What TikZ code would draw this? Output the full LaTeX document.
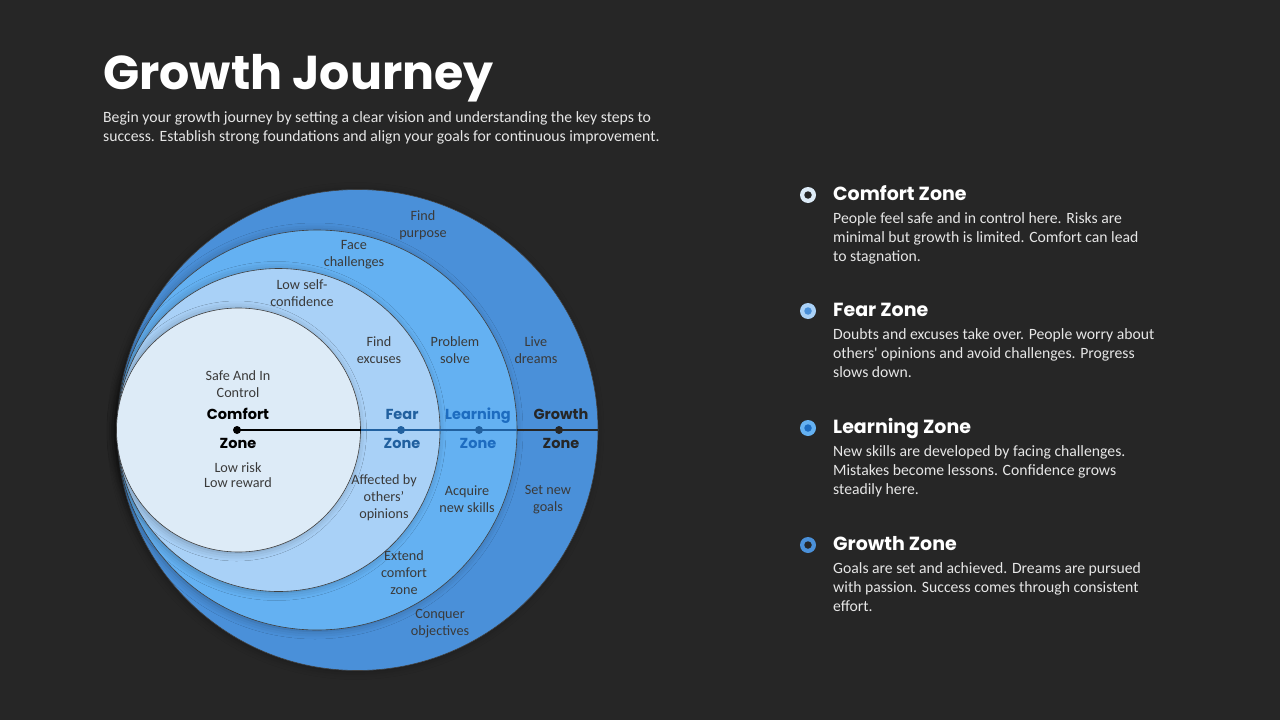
\documentclass[tikz,border=0pt]{standalone}
\usepackage{fontspec}
\setmainfont{Carlito}
\newfontfamily\poppins{Poppins}
\usetikzlibrary{shadows.blur}

\definecolor{bgdark}{HTML}{262626}
\definecolor{comfortfill}{HTML}{DDEBF7}
\definecolor{fearfill}{HTML}{A9D1F7}
\definecolor{learnfill}{HTML}{64B1F2}
\definecolor{growthfill}{HTML}{4A90D9}
\definecolor{fearblue}{HTML}{21609F}
\definecolor{learnblue}{HTML}{1D6CC0}
\definecolor{inktext}{HTML}{3A3A3A}
\definecolor{bodytext}{HTML}{E6E6E6}

\tikzset{
  zone/.style={circle, draw=black!75, line width=0.6pt, inner sep=0pt,
    blur shadow={shadow xshift=-2pt, shadow yshift=-1pt, shadow blur radius=8pt, shadow opacity=28}},
  note/.style={font=\fontsize{14.2}{17}\selectfont, text=inktext, align=center, inner sep=0pt},
  zonename/.style={font=\poppins\bfseries\fontsize{14.5}{17}\selectfont, inner sep=0pt, anchor=base},
  head/.style={font=\poppins\bfseries\fontsize{19}{22}\selectfont, text=white, anchor=base west, inner sep=0pt},
  body/.style={font=\fontsize{15.7}{19}\selectfont, text=bodytext, anchor=base west, align=left, inner sep=0pt},
}

\begin{document}
\begin{tikzpicture}[x=1pt, y=-1pt]
\fill[bgdark] (0,0) rectangle (1280,720);
\useasboundingbox (0,0) rectangle (1280,720);

% title
\node[font=\poppins\bfseries\fontsize{47.5}{52}\selectfont, text=white, anchor=base west, inner sep=0pt] (title) at (103,89) {Growth Journey};
\node[body] (intro) at (103,141) {Begin your growth journey by setting a clear vision and understanding the key steps to\\success. Establish strong foundations and align your goals for continuous improvement.};

% the four zones
\node[zone, fill=growthfill, minimum size=481pt] (growth) at (357.5,430) {};
\node[zone, fill=learnfill, minimum size=400pt] (learning) at (317,430) {};
\node[zone, fill=fearfill, minimum size=323pt] (fear) at (278.5,430) {};
\node[zone, fill=comfortfill, minimum size=244pt] (comfort) at (238.5,430) {};

\coordinate (cdot) at (237,430);
\coordinate (fdot) at (401,430);
\coordinate (ldot) at (479,430);
\coordinate (gdot) at (559,430);
\draw[line width=2pt, black] (cdot) -- (comfort.east);
\draw[line width=2pt, fearblue] (comfort.east) -- (learning.east);
\draw[line width=2pt, bgdark] (learning.east) -- (growth.east);
\fill[black] (cdot) circle[radius=4pt];
\fill[fearblue] (fdot) circle[radius=4pt];
\fill[fearblue] (ldot) circle[radius=4pt];
\fill[bgdark] (gdot) circle[radius=4pt];

\foreach \nm/\x/\col in {Comfort/238/black, Fear/402/fearblue, Learning/478/learnblue, Growth/561/bgdark}{
  \node[zonename, text=\col] (\nm-top) at (\x,419) {\nm};
  \node[zonename, text=\col] (\nm-zone) at (\x,448) {Zone};
}

% notes
\node[note] (safe) at (238,384.5) {Safe And In\\Control};
\node[note, font=\fontsize{14.2}{15}\selectfont] (risk) at (238,475.5) {Low risk\\Low reward};
\node[note] (selfconf) at (302,293.5) {Low self-\\confidence};
\node[note] (excuses) at (379,350.5) {Find\\excuses};
\node[note] (affected) at (384,498) {Affected by\\others'\\opinions};
\node[note] (face) at (354,254.5) {Face\\challenges};
\node[note] (problem) at (455,350.5) {Problem\\solve};
\node[note] (acquire) at (467,499.5) {Acquire\\new skills};
\node[note] (extend) at (404,573) {Extend\\comfort\\zone};
\node[note] (purpose) at (423,225.5) {Find\\purpose};
\node[note] (dreams) at (536,350.5) {Live\\dreams};
\node[note] (goals) at (548,499.5) {Set new\\goals};
\node[note] (conquer) at (440,623.5) {Conquer\\objectives};

% legend
\foreach \y/\ring/\core/\ttl/\txt in {
  195/comfortfill/bgdark/Comfort Zone/{People feel safe and in control here. Risks are\\minimal but growth is limited. Comfort can lead\\to stagnation.},
  311/fearfill/growthfill/Fear Zone/{Doubts and excuses take over. People worry about\\others\textquotesingle\ opinions and avoid challenges. Progress\\slows down.},
  428/learnfill/learnblue/Learning Zone/{New skills are developed by facing challenges.\\Mistakes become lessons. Confidence grows\\steadily here.},
  545/growthfill/bgdark/Growth Zone/{Goals are set and achieved. Dreams are pursued\\with passion. Success comes through consistent\\effort.}}{
  \node[circle, fill=\ring, minimum size=16pt, inner sep=0pt] (ring\y) at (808,\y) {};
  \node[circle, fill=\core, minimum size=7.5pt, inner sep=0pt] (core\y) at (808,\y) {};
  \node[head] (head\y) at (833,\y+5) {\ttl};
  \node[body] (text\y) at (833,\y+66) {\txt};
}
\end{tikzpicture}
\end{document}
